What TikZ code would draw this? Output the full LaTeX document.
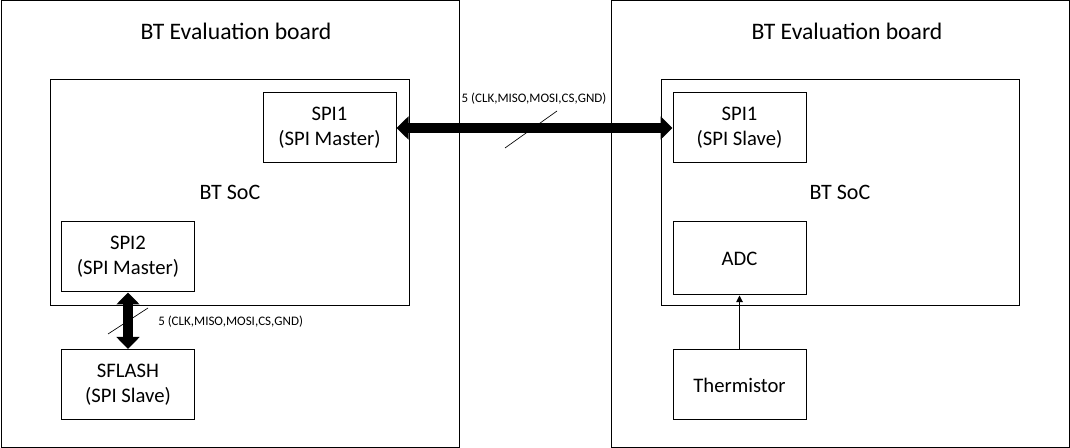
\documentclass[tikz,border=0pt]{standalone}
\usepackage{fontspec}
\setmainfont{Carlito}
\usetikzlibrary{positioning,arrows.meta}

\tikzset{
	pxbox/.style 2 args={draw, line width=0.75pt, minimum width=#1*0.75pt, minimum height=#2*0.75pt, inner sep=0pt, align=center, font=\fontsize{15.5}{19}\selectfont},
	title/.style={font=\fontsize{17.75}{21}\selectfont},
	soctext/.style={font=\fontsize{16.5}{20}\selectfont},
	buslabel/.style={font=\fontsize{9.75}{12}\selectfont, inner sep=0pt},
	busarrow/.style={line width=7.5pt, {Triangle[width=17pt,length=9pt]}-{Triangle[width=17pt,length=9pt]}},
	sigarrow/.style={line width=0.75pt, -{Triangle[width=5pt,length=5pt]}},
	slash/.style={line width=0.5pt}
}

\begin{document}
\begin{tikzpicture}[x=0.75pt,y=-0.75pt]
	\useasboundingbox (0,0) rectangle (1070,448);

	% left board
	\node[pxbox={458}{446}] (leftboard) at (230,224) {};
	\node[title] (lefttitle) at (236,31) {BT Evaluation board};
	\node[pxbox={359}{226}] (leftsoc) at (229.5,193) {};
	\node[soctext] (leftsoclabel) at (230,192) {BT SoC};
	\node[pxbox={133}{70}] (spimaster) at (329.5,128) {SPI1\\(SPI Master)};
	\node[pxbox={133}{70}] (spitwo) at (128,257) {SPI2\\(SPI Master)};
	\node[pxbox={133}{70}] (sflash) at (128,384.5) {SFLASH\\(SPI Slave)};

	% right board
	\node[pxbox={458}{446}] (rightboard) at (840,224) {};
	\node[title] (righttitle) at (847,31) {BT Evaluation board};
	\node[pxbox={358}{226}] (rightsoc) at (840,193) {};
	\node[soctext] (rightsoclabel) at (840,192) {BT SoC};
	\node[pxbox={133}{70}] (spislave) at (739.5,128) {SPI1\\(SPI Slave)};
	\node[pxbox={133}{73}] (adc) at (739.5,258.5) {ADC};
	\node[pxbox={133}{70}] (thermistor) at (739.5,385) {Thermistor};

	% buses
	\draw[busarrow] (spimaster.east) -- (spislave.west);
	\node[buslabel] (boardbus) at (534,99) {5 (CLK,MISO,MOSI,CS,GND)};
	\coordinate (boardslashA) at (505,148);
	\coordinate (boardslashB) at (557,111);
	\draw[slash] (boardslashA) -- (boardslashB);

	\draw[busarrow] (spitwo.south) -- (sflash.north);
	\node[buslabel, anchor=west] (flashbus) at (158,322) {5 (CLK,MISO,MOSI,CS,GND)};
	\coordinate (flashslashA) at (108,334);
	\coordinate (flashslashB) at (148,308);
	\draw[slash] (flashslashA) -- (flashslashB);

	% sensor
	\draw[sigarrow] (thermistor.north) -- (adc.south);
\end{tikzpicture}
\end{document}
